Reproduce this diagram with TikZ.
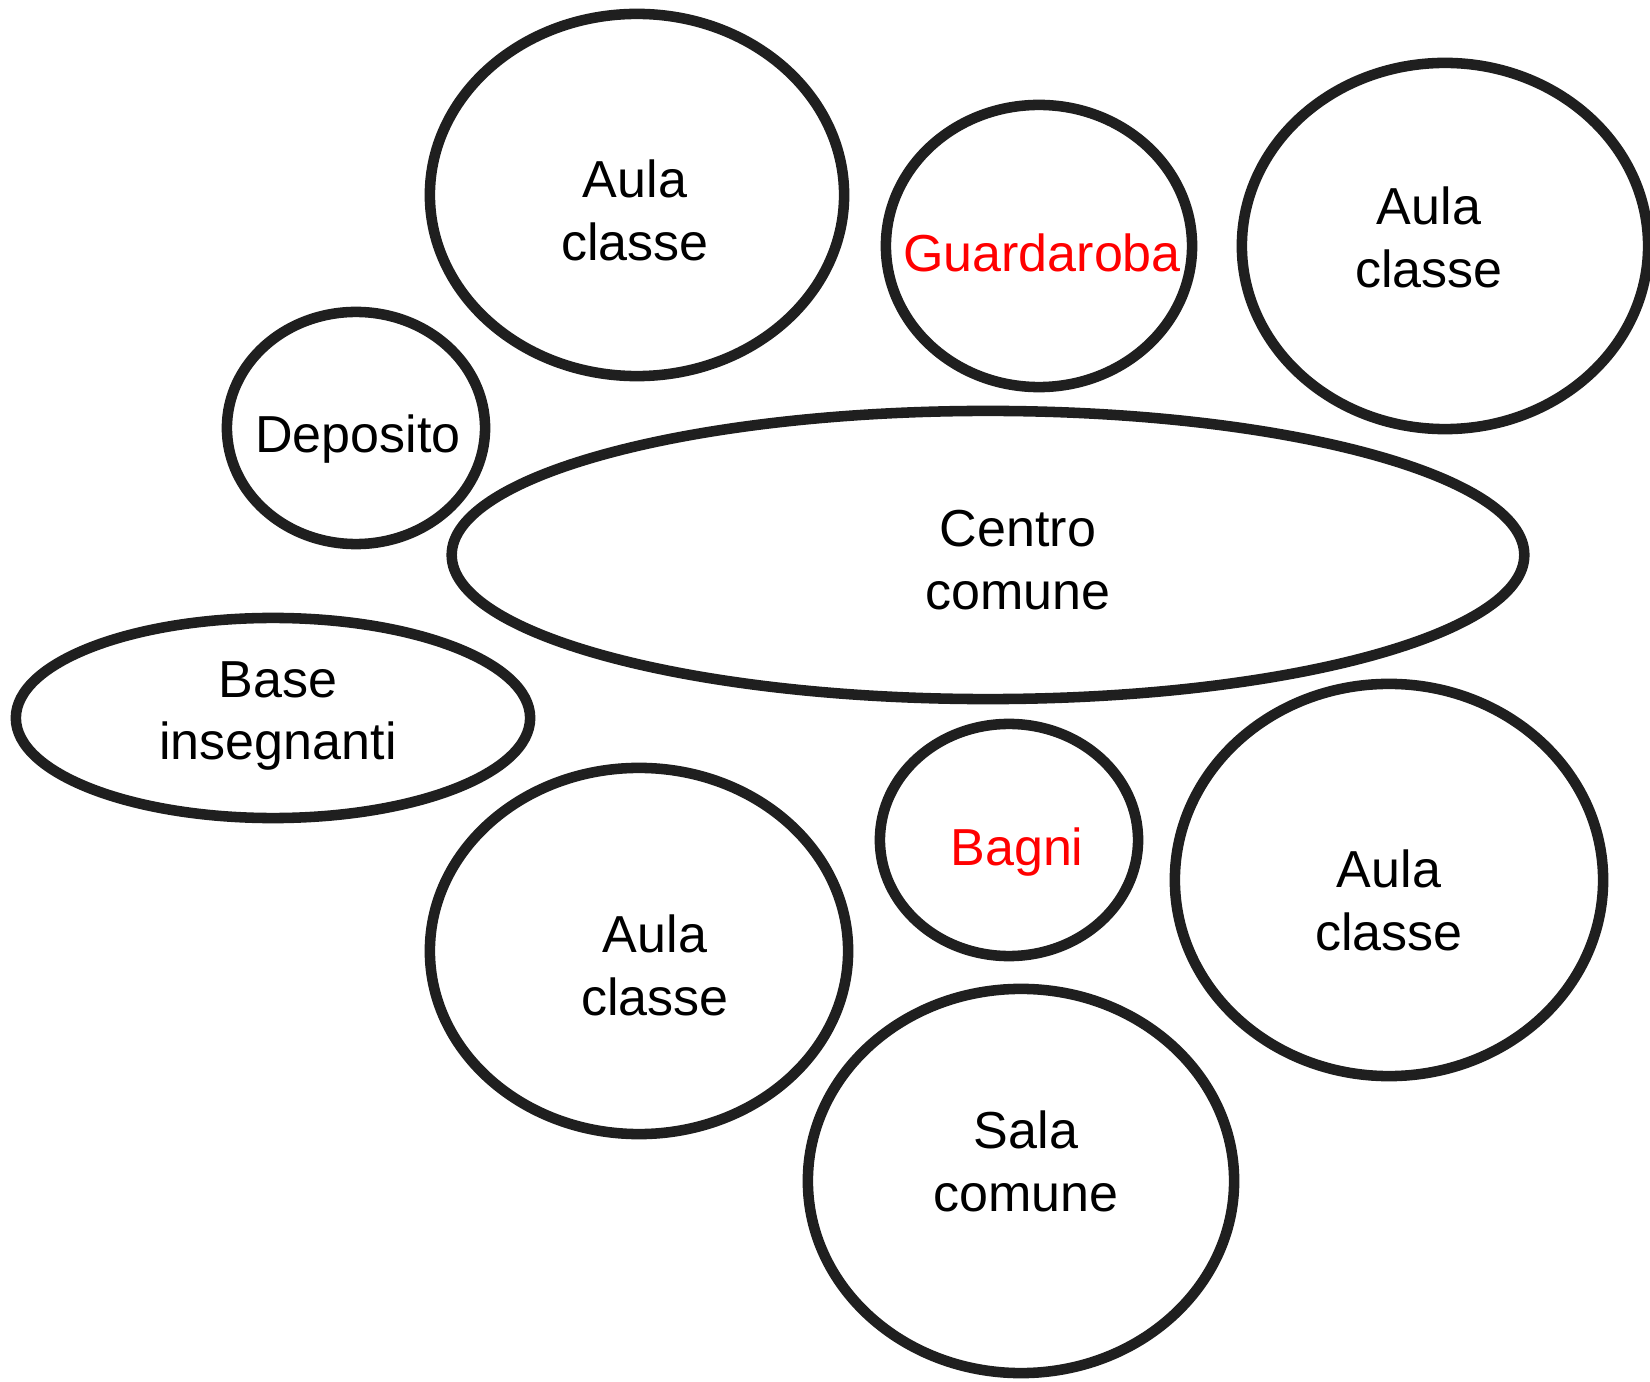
\documentclass[tikz,border=0pt]{standalone}
\usepackage{fontspec}
\setmainfont{Liberation Sans}
\usetikzlibrary{shapes.geometric}

\begin{document}
\begin{tikzpicture}[x=0.01cm,y=-0.01cm,
  bubble/.style={draw=black!88,line width=3pt,ellipse,inner sep=0pt},
  room/.style={align=center,font=\fontsize{14.8}{17.9}\selectfont},
  service/.style={room,text=red}]
 \useasboundingbox (0,0) rectangle (1650,1382);
 % bubbles
 \node[bubble,minimum width=4.14cm,minimum height=3.62cm] (aula_nw) at (637,195) {};
 \node[bubble,minimum width=3.06cm,minimum height=2.82cm] (guard) at (1039,246) {};
 \node[bubble,minimum width=4.06cm,minimum height=3.66cm] (aula_ne) at (1445,246) {};
 \node[bubble,minimum width=2.58cm,minimum height=2.32cm] (depo) at (356,428) {};
 \node[bubble,minimum width=10.72cm,minimum height=2.88cm] (centro) at (988,555) {};
 \node[bubble,minimum width=5.14cm,minimum height=2cm] (base) at (273,718) {};
 \node[bubble,minimum width=4.18cm,minimum height=3.66cm] (aula_sw) at (639,951) {};
 \node[bubble,minimum width=2.58cm,minimum height=2.32cm] (bagni) at (1009,840) {};
 \node[bubble,minimum width=4.28cm,minimum height=3.92cm] (aula_se) at (1389,880) {};
 \node[bubble,minimum width=4.26cm,minimum height=3.84cm] (sala) at (1021,1181) {};
 % labels
 \node[room] (t_aula_nw) at (635,210) {Aula\\classe};
 \node[service] (t_guard) at (1042,253) {Guardaroba};
 \node[room] (t_aula_ne) at (1429,237) {Aula\\classe};
 \node[room] (t_depo) at (358,439) {Deposito};
 \node[room] (t_centro) at (1018,560) {Centro\\comune};
 \node[room] (t_base) at (278,716) {Base\\insegnanti};
 \node[room] (t_aula_sw) at (655,965) {Aula\\classe};
 \node[service] (t_bagni) at (1017,852) {Bagni};
 \node[room] (t_aula_se) at (1389,900) {Aula\\classe};
 \node[room] (t_sala) at (1026,1161) {Sala\\comune};
\end{tikzpicture}
\end{document}
